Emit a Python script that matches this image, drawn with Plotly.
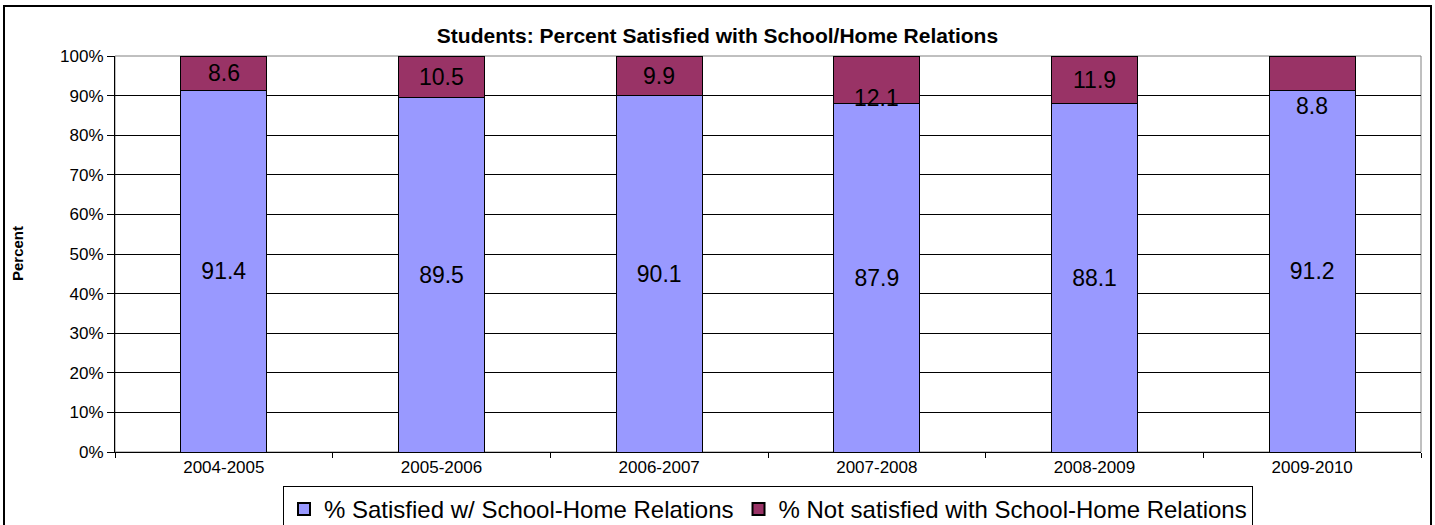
import plotly.graph_objects as go

# School years and survey results (percent of students)
years = ["2004-2005", "2005-2006", "2006-2007", "2007-2008", "2008-2009", "2009-2010"]
satisfied = [91.4, 89.5, 90.1, 87.9, 88.1, 91.2]
not_satisfied = [8.6, 10.5, 9.9, 12.1, 11.9, 8.8]

y_ticks = list(range(0, 101, 10))
y_tick_labels = [f"{v}%" for v in y_ticks]

FONT = "Arial, 'Liberation Sans', sans-serif"
BLUE = "#9999FF"
MAROON = "#993366"

W, H = 1435, 525
ML, MR, MT, MB = 115, 14, 56, 73
PW, PH = W - ML - MR, H - MT - MB


def px_x(x):
    return (x - ML) / PW


def px_y(y):
    return (H - MB - y) / PH


fig = go.Figure()

fig.add_trace(go.Bar(
    x=years, y=satisfied, name="% Satisfied w/ School-Home Relations",
    marker=dict(color=BLUE, line=dict(color="#000000", width=1)),
    text=[f"{v:.1f}" for v in satisfied],
    textposition="inside", insidetextanchor="middle", textangle=0,
    constraintext="none",
    textfont=dict(family=FONT, size=23, color="#000000"),
))
fig.add_trace(go.Bar(
    x=years, y=not_satisfied, name="% Not satisfied with School-Home Relations",
    marker=dict(color=MAROON, line=dict(color="#000000", width=1)),
))

# Labels of the upper segment sit at the segment middle, a few are nudged down
label_shift = {"2007-2008": -4.5, "2009-2010": -8.1}
for yr, base, val in zip(years, satisfied, not_satisfied):
    fig.add_annotation(
        x=yr, y=base + val / 2 + label_shift.get(yr, 0), xref="x", yref="y",
        text=f"{val:.1f}", showarrow=False,
        font=dict(family=FONT, size=23, color="#000000"),
    )

# Y-axis title
fig.add_annotation(
    x=px_x(17), y=0.5, xref="paper", yref="paper", text="<b>Percent</b>",
    xanchor="center", yanchor="middle",
    textangle=-90, showarrow=False, font=dict(family=FONT, size=15, color="#000000"),
)

# Outer chart frame
fig.add_shape(
    type="rect", xref="paper", yref="paper",
    x0=px_x(4), x1=px_x(1431), y0=px_y(527), y1=px_y(6),
    line=dict(color="#000000", width=2), layer="below",
)
# Plot-area border
fig.add_shape(
    type="rect", xref="paper", yref="paper", x0=0, x1=1, y0=0, y1=1,
    line=dict(color="#808080", width=1), layer="below",
)

fig.update_layout(
    width=W, height=H,
    margin=dict(l=ML, r=MR, t=MT, b=MB, autoexpand=False),
    paper_bgcolor="#FFFFFF", plot_bgcolor="#FFFFFF",
    barmode="stack", bargap=0.605,
    font=dict(family=FONT, color="#000000"),
    title=dict(
        text="<b>Students: Percent Satisfied with School/Home Relations</b>",
        x=0.5, xref="container", xanchor="center",
        y=(H - 36) / H, yref="container", yanchor="middle",
        font=dict(family=FONT, size=21, color="#000000"),
    ),
    showlegend=True,
    legend=dict(
        orientation="h", x=0.5, xanchor="center", y=px_y(486), yanchor="top",
        bordercolor="#000000", borderwidth=1, bgcolor="#FFFFFF",
        font=dict(family=FONT, size=24, color="#000000"),
        itemsizing="constant", traceorder="normal",
    ),
    xaxis=dict(
        type="category", categoryorder="array", categoryarray=years,
        ticks="outside", tickson="boundaries", ticklen=5, tickcolor="#000000",
        showline=True, linecolor="#000000", linewidth=1,
        tickfont=dict(family=FONT, size=17, color="#000000"),
        showgrid=False, zeroline=False,
    ),
    yaxis=dict(
        range=[0, 100], tickvals=y_ticks, ticktext=y_tick_labels,
        ticks="outside", ticklen=7, tickcolor="#000000",
        showline=True, linecolor="#000000", linewidth=1,
        showgrid=True, gridcolor="#000000", gridwidth=1,
        zeroline=False,
        tickfont=dict(family=FONT, size=17, color="#000000"),
    ),
)

fig.write_html("out.html")
